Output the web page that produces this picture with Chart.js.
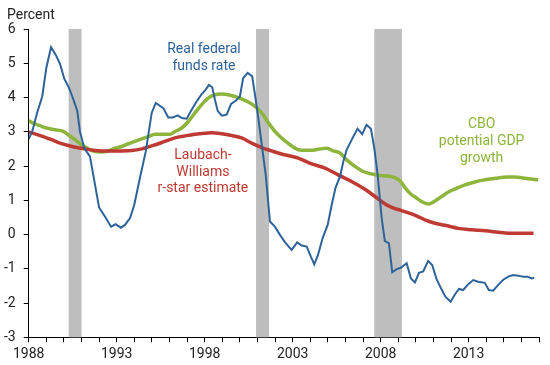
<!DOCTYPE html>
<html><head><meta charset="utf-8">
<script src="https://cdn.jsdelivr.net/npm/chart.js@4/dist/chart.umd.min.js"></script>
<style>html,body{margin:0;padding:0;background:#fff}#wrap{width:550px;height:365px;position:relative}</style>
</head><body><div id="wrap"><canvas id="c" width="550" height="365"></canvas></div>
<script>
// Real federal funds rate
const fedYears = [1988.0,1988.2,1988.5,1988.77,1989.0,1989.27,1989.53,1989.78,1990.02,1990.25,1990.5,1990.76,1990.91,1991.16,1991.48,1992.0,1992.34,1992.68,1992.94,1993.24,1993.47,1993.76,1994.0,1994.32,1994.65,1994.99,1995.22,1995.65,1995.93,1996.2,1996.47,1996.7,1996.98,1997.26,1997.55,1997.83,1998.06,1998.24,1998.43,1998.58,1998.74,1998.97,1999.25,1999.5,1999.78,2000.0,2000.19,2000.44,2000.7,2000.86,2001.05,2001.27,2001.47,2001.71,2001.99,2002.28,2002.56,2002.94,2003.26,2003.51,2003.8,2004.04,2004.23,2004.45,2004.7,2004.99,2005.22,2005.44,2005.69,2005.88,2006.07,2006.31,2006.5,2006.69,2006.95,2007.2,2007.45,2007.64,2007.83,2008.06,2008.24,2008.47,2008.66,2008.91,2009.15,2009.48,2009.72,2009.95,2010.18,2010.42,2010.7,2010.93,2011.18,2011.43,2011.69,2011.98,2012.22,2012.45,2012.69,2012.98,2013.26,2013.54,2013.92,2014.15,2014.4,2014.68,2014.97,2015.25,2015.53,2015.82,2016.1,2016.35,2016.58,2016.73];
const fedRate = [2.79,3.01,3.59,4.03,4.86,5.47,5.25,4.98,4.55,4.33,4.0,3.61,3.01,2.52,2.28,0.79,0.52,0.23,0.30,0.20,0.28,0.48,0.87,1.65,2.42,3.55,3.84,3.69,3.42,3.42,3.48,3.40,3.38,3.64,3.89,4.10,4.23,4.37,4.30,3.94,3.61,3.47,3.50,3.81,3.91,4.03,4.57,4.72,4.62,4.08,3.40,2.52,1.74,0.38,0.23,-0.01,-0.22,-0.45,-0.23,-0.32,-0.35,-0.65,-0.87,-0.58,-0.11,0.28,0.87,1.37,1.69,2.13,2.47,2.72,2.91,3.09,2.93,3.20,3.09,2.52,1.74,0.48,-0.19,-0.25,-1.10,-1.01,-0.97,-0.84,-1.28,-1.40,-1.12,-1.08,-0.77,-0.89,-1.30,-1.57,-1.82,-1.96,-1.75,-1.59,-1.62,-1.45,-1.33,-1.38,-1.41,-1.62,-1.64,-1.47,-1.32,-1.23,-1.18,-1.20,-1.23,-1.23,-1.28,-1.26];

// Laubach-Williams r-star estimate
const lwYears = [1988.0,1988.36,1988.83,1989.3,1989.78,1990.25,1990.73,1991.2,1991.67,1992.15,1992.72,1993.28,1993.85,1994.42,1994.99,1995.2,1995.74,1996.31,1996.88,1997.45,1998.02,1998.4,1998.97,1999.53,2000.1,2000.67,2001.24,2001.81,2002.37,2002.8,2003.32,2004.08,2004.84,2005.59,2006.35,2007.11,2007.68,2008.15,2008.63,2009.19,2009.76,2010.19,2010.52,2011.09,2011.85,2012.41,2013.17,2013.93,2014.68,2015.25,2016.01,2016.69];
const lwRstar = [2.99,2.94,2.86,2.77,2.67,2.60,2.54,2.50,2.46,2.44,2.44,2.44,2.45,2.50,2.59,2.62,2.72,2.82,2.88,2.93,2.96,2.97,2.94,2.89,2.82,2.67,2.54,2.44,2.35,2.30,2.23,2.06,1.94,1.74,1.55,1.32,1.11,0.93,0.79,0.70,0.60,0.51,0.43,0.33,0.25,0.18,0.14,0.11,0.07,0.04,0.04,0.04];

// CBO potential GDP growth
const cboYears = [1988.0,1988.26,1988.64,1989.0,1989.5,1989.97,1990.25,1990.63,1991.01,1991.39,1991.77,1992.15,1992.52,1992.9,1993.28,1993.66,1994.04,1994.42,1994.8,1995.18,1995.56,1996.03,1996.31,1996.7,1997.07,1997.45,1997.83,1998.2,1998.59,1998.97,1999.34,1999.72,2000.1,2000.48,2000.86,2001.24,2001.61,2001.99,2002.37,2002.75,2003.1,2003.5,2004.08,2004.45,2004.93,2005.31,2005.69,2006.07,2006.54,2007.01,2007.49,2007.96,2008.43,2008.81,2009.1,2009.38,2009.76,2010.0,2010.33,2010.7,2011.09,2011.47,2011.85,2012.32,2012.79,2013.26,2013.74,2014.21,2014.68,2015.16,2015.63,2016.01,2016.39,2016.95];
const cboGrowth = [3.33,3.25,3.18,3.11,3.06,3.01,2.91,2.77,2.62,2.50,2.42,2.41,2.44,2.52,2.57,2.65,2.72,2.79,2.86,2.93,2.93,2.93,3.01,3.11,3.30,3.55,3.79,3.98,4.08,4.10,4.08,4.03,3.96,3.87,3.74,3.55,3.27,3.01,2.82,2.66,2.53,2.46,2.46,2.49,2.52,2.44,2.38,2.18,1.99,1.84,1.77,1.72,1.71,1.66,1.57,1.37,1.16,1.08,0.96,0.89,0.98,1.11,1.24,1.35,1.45,1.52,1.58,1.62,1.65,1.68,1.68,1.66,1.63,1.60];

// Recessions (shaded)
const recessionStart = [1990.27, 2000.92, 2007.64];
const recessionEnd   = [1991.0, 2001.66, 2009.21];

// Axis ticks
const xMin = 1988, xMax = 2017, xLabelEvery = 5;
const yMin = -3, yMax = 6;

const BLUE = '#2e6399', RED = '#be3a32', GREEN = '#8db53c';
const FONT = 'Roboto, "Liberation Sans", sans-serif';

const toXY = (xs, ys) => xs.map((x, i) => ({x, y: ys[i]}));

const annotations = [
  {x: 1997.96, y: 5.31, lines: ['Real federal', 'funds rate'], color: BLUE, lh: 17},
  {x: 1997.9, y: 2.196, lines: ['Laubach-', 'Williams', 'r-star estimate'], color: RED, lh: 16.5},
  {x: 2013.74, y: 3.117, lines: ['CBO', 'potential GDP', 'growth'], color: GREEN, lh: 17}
];

const recessionPlugin = {
  id: 'recessions',
  beforeDatasetsDraw(chart) {
    const {ctx, chartArea, scales} = chart;
    ctx.save();
    ctx.fillStyle = '#bebebe';
    recessionStart.forEach((s, i) => {
      const x0 = scales.x.getPixelForValue(s);
      const x1 = scales.x.getPixelForValue(recessionEnd[i]);
      ctx.fillRect(x0, chartArea.top, x1 - x0, chartArea.bottom - chartArea.top);
    });
    ctx.restore();
  }
};

const textPlugin = {
  id: 'texts',
  afterDraw(chart) {
    const {ctx, scales} = chart;
    ctx.save();
    ctx.font = '14px ' + FONT;
    ctx.textBaseline = 'alphabetic';
    ctx.textAlign = 'center';
    annotations.forEach(a => {
      const px = scales.x.getPixelForValue(a.x);
      const py = scales.y.getPixelForValue(a.y);
      ctx.fillStyle = a.color;
      a.lines.forEach((t, i) => ctx.fillText(t, px, py + i * a.lh));
    });
    ctx.textAlign = 'left';
    ctx.fillStyle = '#222';
    ctx.fillText('Percent', 7, 18.5);
    ctx.restore();
  }
};

new Chart(document.getElementById('c'), {
  type: 'line',
  data: {
    datasets: [
      {label: 'Real federal funds rate', data: toXY(fedYears, fedRate), borderColor: BLUE, borderWidth: 2, pointRadius: 0, tension: 0},
      {label: 'Laubach-Williams r-star estimate', data: toXY(lwYears, lwRstar), borderColor: RED, borderWidth: 3.5, pointRadius: 0, cubicInterpolationMode: 'monotone'},
      {label: 'CBO potential GDP growth', data: toXY(cboYears, cboGrowth), borderColor: GREEN, borderWidth: 3.5, pointRadius: 0, cubicInterpolationMode: 'monotone'}
    ]
  },
  options: {
    responsive: false,
    devicePixelRatio: 1,
    animation: false,
    layout: {padding: {top: 29, right: 11, left: 0, bottom: 0}},
    plugins: {legend: {display: false}, tooltip: {enabled: false}},
    scales: {
      x: {
        type: 'linear', min: xMin, max: xMax,
        afterFit(s) { s.height = 27.7; },
        grid: {drawOnChartArea: false, drawTicks: true, tickLength: 5, color: '#000'},
        border: {display: true, color: '#000', width: 1},
        ticks: {
          stepSize: 1, autoSkip: false, maxRotation: 0, padding: 4,
          color: '#222', font: {size: 14, family: FONT},
          callback: v => { const r = Math.round(v); return (r - xMin) % xLabelEvery === 0 ? String(r) : ''; }
        }
      },
      y: {
        min: yMin, max: yMax,
        afterFit(s) { s.width = 28.7; },
        grid: {drawOnChartArea: false, drawTicks: true, tickLength: 5, color: '#000'},
        border: {display: true, color: '#000', width: 1},
        ticks: {stepSize: 1, padding: 8, color: '#222', font: {size: 14, family: FONT}}
      }
    }
  },
  plugins: [recessionPlugin, textPlugin]
});
</script></body></html>
